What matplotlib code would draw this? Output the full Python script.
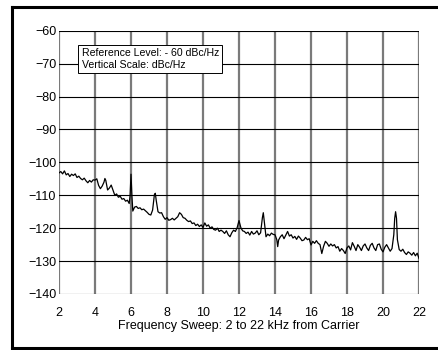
import matplotlib
matplotlib.use("Agg")
import matplotlib.pyplot as plt
from matplotlib.lines import Line2D

plt.rcParams['font.family'] = ['Liberation Sans', 'DejaVu Sans']

freq_khz = [
    2.0, 2.1, 2.2, 2.3, 2.4, 2.5, 2.6, 2.7, 2.8, 2.9,
    3.0, 3.1, 3.2, 3.3, 3.4, 3.5, 3.6, 3.7, 3.8, 3.9,
    4.0, 4.1, 4.2, 4.3, 4.4, 4.5, 4.55, 4.6, 4.7, 4.8, 4.9,
    5.0, 5.1, 5.2, 5.3, 5.4, 5.5, 5.6, 5.7, 5.8, 5.9, 5.95,
    6.0, 6.05, 6.1, 6.2, 6.3, 6.4, 6.5, 6.6, 6.7, 6.8, 6.9,
    7.0, 7.1, 7.2, 7.3, 7.35, 7.4, 7.5, 7.6, 7.7, 7.8, 7.9,
    8.0, 8.1, 8.2, 8.3, 8.4, 8.5, 8.6, 8.7, 8.8, 8.9,
    9.0, 9.1, 9.2, 9.3, 9.4, 9.5, 9.6, 9.7, 9.8, 9.9,
    10.0, 10.1, 10.2, 10.3, 10.4, 10.5, 10.6, 10.7, 10.8, 10.9,
    11.0, 11.1, 11.2, 11.3, 11.4, 11.5, 11.6, 11.7, 11.8, 11.9,
    12.0, 12.1, 12.2, 12.3, 12.4, 12.5, 12.6, 12.7, 12.8, 12.9,
    13.0, 13.1, 13.2, 13.3, 13.35, 13.4, 13.5, 13.6, 13.7, 13.8, 13.9,
    14.0, 14.1, 14.15, 14.2, 14.3, 14.4, 14.5, 14.6, 14.7, 14.8, 14.9,
    15.0, 15.1, 15.2, 15.3, 15.4, 15.5, 15.6, 15.7, 15.8, 15.9,
    16.0, 16.1, 16.2, 16.3, 16.4, 16.5, 16.6, 16.7, 16.8, 16.9,
    17.0, 17.1, 17.2, 17.3, 17.4, 17.5, 17.6, 17.7, 17.8, 17.9,
    18.0, 18.1, 18.2, 18.3, 18.4, 18.5, 18.6, 18.7, 18.8, 18.9,
    19.0, 19.1, 19.2, 19.3, 19.4, 19.5, 19.6, 19.7, 19.8, 19.9,
    20.0, 20.1, 20.2, 20.3, 20.4, 20.5, 20.6, 20.65, 20.7, 20.75, 20.8, 20.9,
    21.0, 21.1, 21.2, 21.3, 21.4, 21.5, 21.6, 21.7, 21.8, 21.9, 22.0,
]

level_dbc = [
    -103.2, -102.8, -103.5, -102.6, -103.8, -103.4, -104.3, -103.6, -104.0, -103.5,
    -104.6, -104.2, -104.9, -105.3, -104.8, -105.6, -106.2, -105.5, -106.0, -105.3,
    -105.4, -105.0, -107.0, -108.0, -107.2, -106.0, -104.9, -105.5, -108.4, -107.8, -106.9,
    -108.5, -110.0, -109.6, -110.6, -110.3, -111.2, -111.0, -111.8, -111.5, -112.5, -110.0,
    -103.6, -110.0, -114.8, -113.6, -113.4, -114.0, -113.8, -114.4, -114.2, -114.7, -115.2,
    -115.8, -116.0, -114.5, -109.8, -109.4, -111.5, -115.0, -115.4, -115.3, -116.5, -117.3,
    -116.8, -117.6, -117.4, -117.0, -117.5, -117.0, -116.5, -115.3, -115.8, -116.8,
    -117.0, -117.6, -118.0, -117.8, -118.6, -118.4, -119.2, -118.8, -119.5, -119.0,
    -119.8, -118.4, -119.4, -119.0, -120.0, -119.6, -120.4, -120.6, -120.0, -121.0,
    -120.6, -121.0, -121.6, -120.8, -122.0, -122.6, -121.4, -120.6, -121.0, -119.8,
    -117.7, -119.8, -120.8, -121.0, -121.6, -121.2, -122.1, -121.0, -121.8, -121.5,
    -120.8, -122.0, -121.4, -116.8, -115.3, -117.8, -122.6, -121.8, -122.3, -121.5, -121.9,
    -122.0, -123.5, -125.6, -123.6, -122.6, -122.0, -123.2, -122.1, -121.0, -122.4, -122.0,
    -123.0, -122.5, -123.4, -122.4, -123.0, -123.8, -123.6, -122.8, -123.5, -123.2,
    -125.1, -124.0, -124.6, -123.8, -124.6, -125.0, -127.7, -125.5, -124.0, -124.6,
    -125.5, -124.8, -125.4, -125.0, -126.0, -125.6, -127.0, -126.2, -126.8, -127.7,
    -126.0, -125.4, -126.6, -124.4, -125.5, -126.8, -125.0, -125.8, -126.8, -125.4,
    -124.8, -126.0, -126.8, -125.2, -124.6, -126.0, -126.8, -125.0, -124.8, -126.4,
    -127.2, -125.8, -125.0, -126.0, -127.0, -126.2, -122.0, -117.0, -115.0, -117.0, -123.5, -126.5,
    -127.0, -126.4, -127.4, -128.0, -127.2, -127.6, -128.2, -127.4, -128.4, -127.6, -129.2,
]

x_ticks = [2, 4, 6, 8, 10, 12, 14, 16, 18, 20, 22]
y_ticks = [-140, -130, -120, -110, -100, -90, -80, -70, -60]
x_label = "Frequency Sweep: 2 to 22 kHz from Carrier"
note_text = "Reference Level: - 60 dBc/Hz\nVertical Scale: dBc/Hz"

fig = plt.figure(figsize=(4.38, 3.5), dpi=100)
ax = fig.add_axes([59 / 438, 1 - 294 / 350, 360 / 438, 263.3 / 350])

ax.set_xlim(2, 22)
ax.set_ylim(-140, -60)
ax.set_xticks(x_ticks)
ax.set_yticks(y_ticks)
ax.tick_params(axis='both', length=0, labelsize=9)
ax.tick_params(axis='x', pad=9)
ax.tick_params(axis='y', pad=2)

for x in x_ticks:
    ax.axvline(x, color='#7a7a7a', lw=1.6, zorder=1)
for y in y_ticks:
    ax.axhline(y, color='black', lw=0.8, zorder=1.5)
for s in ax.spines.values():
    s.set_visible(False)

ax.plot(freq_khz, level_dbc, color='black', lw=0.9, zorder=3)

ax.text(3.25, -65.4, note_text, fontsize=7.6, va='top', ha='left', zorder=5,
        linespacing=1.15,
        bbox=dict(boxstyle='square,pad=0.3', facecolor='white', edgecolor='black', lw=0.7))

ax.set_xlabel(x_label, fontsize=9, labelpad=1)

# outer frame
fig.add_artist(Line2D([12 / 438, 12 / 438], [1 - 7 / 350, 1 - 348 / 350],
                      transform=fig.transFigure, color='black', lw=2.2))
fig.add_artist(Line2D([12 / 438, 1.01], [1 - 7 / 350, 1 - 7 / 350],
                      transform=fig.transFigure, color='black', lw=2.2))
fig.add_artist(Line2D([12 / 438, 1.01], [1 - 348 / 350, 1 - 348 / 350],
                      transform=fig.transFigure, color='black', lw=2.2))

fig.savefig("out.png", dpi=100)
